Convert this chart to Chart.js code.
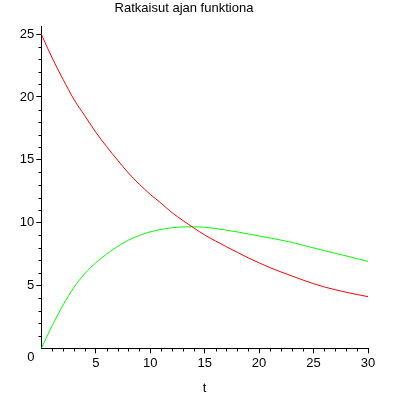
<!DOCTYPE html>
<html>
<head>
<meta charset="utf-8">
<title>Ratkaisut ajan funktiona</title>
<script src="https://cdn.jsdelivr.net/npm/chart.js@4"></script>
<style>
  body { margin: 0; background: #ffffff; }
  #graph { display: block; }
</style>
</head>
<body>
<canvas id="graph" width="396" height="396"></canvas>
<script>
// values, one per unit of t
const tValues = [0, 1, 2, 3, 4, 5, 6, 7, 8, 9, 10, 11, 12, 13, 14, 15, 16, 17, 18, 19, 20, 21, 22, 23, 24, 25, 26, 27, 28, 29, 30];
const redValues = [25, 23.1, 21.4, 19.8, 18.5, 17.2, 16.05, 14.98, 13.95, 13.06, 12.25, 11.55, 10.8, 10.17, 9.58, 9.02, 8.54, 8.08, 7.64, 7.2, 6.8, 6.42, 6.08, 5.76, 5.44, 5.14, 4.88, 4.66, 4.46, 4.28, 4.11];
const greenValues = [0, 1.8, 3.45, 4.85, 5.95, 6.8, 7.5, 8.1, 8.6, 8.98, 9.26, 9.46, 9.59, 9.66, 9.67, 9.63, 9.53, 9.4, 9.26, 9.1, 8.94, 8.78, 8.61, 8.43, 8.21, 7.99, 7.77, 7.56, 7.35, 7.13, 6.92];
const xTickLabels = [5, 10, 15, 20, 25, 30];
const yTickLabels = [5, 10, 15, 20, 25];

const fontFamily = "'Liberation Sans', Arial, sans-serif";
let ctx = document.getElementById('graph');

function toPoints(values) {
    return tValues.map((t, i) => ({ x: t, y: values[i] }));
}

// maple style minor ticks and the "0" under the corner
const minorTicks = {
    id: 'minorTicks',
    afterDraw: (chart) => {
        const c = chart.ctx;
        const xs = chart.scales.x;
        const ys = chart.scales.y;
        const axisY = Math.round(ys.getPixelForValue(0)) + 0.5;
        const axisX = Math.round(xs.getPixelForValue(0)) + 0.5;
        c.save();
        c.strokeStyle = '#000000';
        c.lineWidth = 1;
        c.beginPath();
        for (let v = 1; v < 30; v++) {
            if (v % 5 === 0) continue;
            const px = Math.round(xs.getPixelForValue(v)) + 0.5;
            c.moveTo(px, axisY);
            c.lineTo(px, axisY + 3);
        }
        for (let v = 1; v < 25; v++) {
            if (v % 5 === 0) continue;
            const py = Math.round(ys.getPixelForValue(v)) + 0.5;
            c.moveTo(axisX - 3, py);
            c.lineTo(axisX, py);
        }
        c.stroke();
        c.fillStyle = '#000000';
        c.font = '13px ' + fontFamily;
        c.textAlign = 'right';
        c.textBaseline = 'middle';
        c.fillText('0', axisX - 7, axisY + 9);
        c.restore();
    }
};

let chart = new Chart(ctx, {
    type: 'line',
    data: {
        datasets: [{
            label: 'red',
            data: toPoints(redValues),
            borderColor: '#ff0000',
            borderWidth: 1,
            pointRadius: 0,
            cubicInterpolationMode: 'monotone'
        }, {
            label: 'green',
            data: toPoints(greenValues),
            borderColor: '#00ff00',
            borderWidth: 1,
            pointRadius: 0,
            cubicInterpolationMode: 'monotone'
        }]
    },
    options: {
        responsive: false,
        animation: false,
        layout: {
            padding: { left: 0, right: 28, top: 0, bottom: 0 }
        },
        plugins: {
            legend: { display: false },
            tooltip: { enabled: false },
            title: {
                display: true,
                text: 'Ratkaisut ajan funktiona',
                color: '#000000',
                font: { family: fontFamily, size: 13, weight: 'normal' },
                padding: { top: 1, bottom: 10 }
            }
        },
        scales: {
            x: {
                type: 'linear',
                min: 0,
                max: 30,
                afterBuildTicks: (scale) => {
                    scale.ticks = xTickLabels.map(v => ({ value: v }));
                },
                afterFit: (scale) => {
                    scale.height = 47.7;
                },
                grid: {
                    drawOnChartArea: false,
                    drawTicks: true,
                    tickLength: 5,
                    tickColor: '#000000'
                },
                border: { display: true, color: '#000000', width: 1 },
                ticks: {
                    color: '#000000',
                    padding: 2,
                    maxRotation: 0,
                    font: { family: fontFamily, size: 13 }
                },
                title: {
                    display: true,
                    text: 't',
                    color: '#000000',
                    font: { family: fontFamily, size: 13 },
                    padding: { top: 0, bottom: 0 }
                }
            },
            y: {
                type: 'linear',
                min: 0,
                max: 25.6,
                afterBuildTicks: (scale) => {
                    scale.ticks = yTickLabels.map(v => ({ value: v }));
                },
                afterFit: (scale) => {
                    scale.width = 41.3;
                },
                grid: {
                    drawOnChartArea: false,
                    drawTicks: true,
                    tickLength: 5,
                    tickColor: '#000000'
                },
                border: { display: true, color: '#000000', width: 1 },
                ticks: {
                    color: '#000000',
                    padding: 2,
                    font: { family: fontFamily, size: 13 }
                }
            }
        }
    },
    plugins: [minorTicks]
});
</script>
</body>
</html>
